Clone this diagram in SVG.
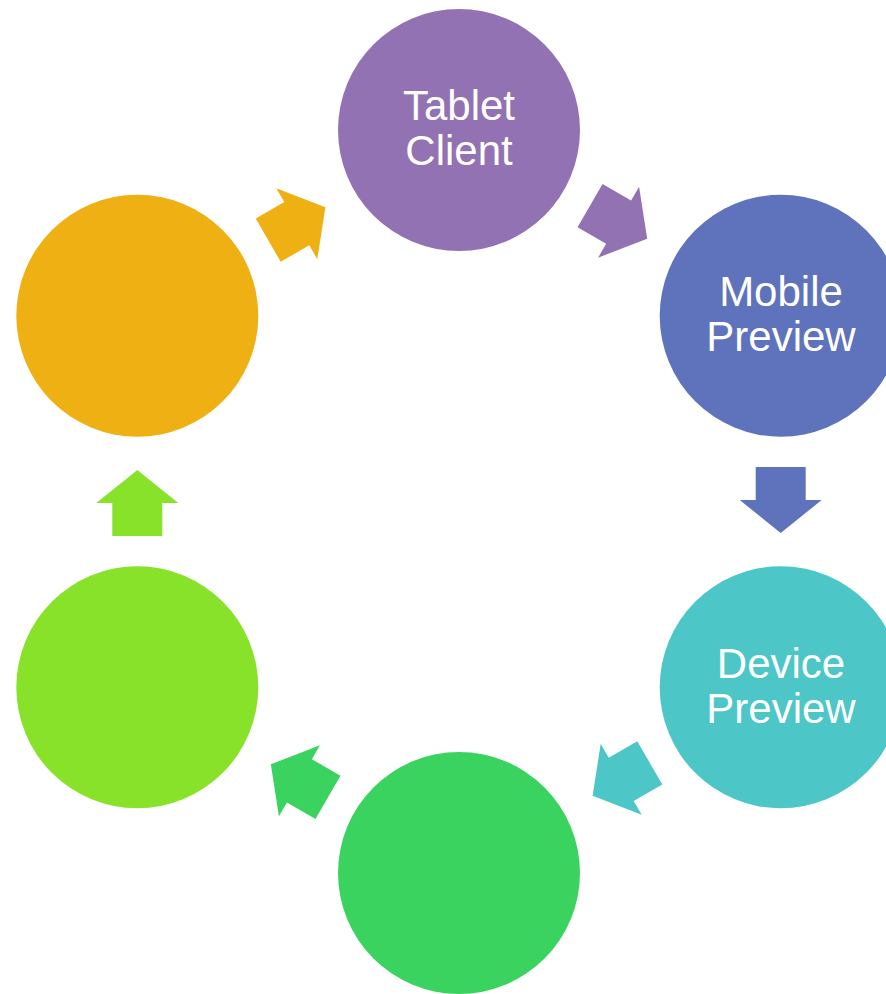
<svg xmlns="http://www.w3.org/2000/svg" width="886" height="994" viewBox="0 0 886 994">
<style>
.lbl{font-family:"Liberation Sans",Arial,sans-serif;font-size:42px;fill:#ffffff;text-anchor:middle}
</style>
<defs>
<polygon id="arr" points="-34.5,-25 -1.5,-25 -1.5,-41 31.5,0 -1.5,41 -1.5,25 -34.5,25"/>
</defs>
<rect width="886" height="994" fill="#ffffff"/>
<g id="node-tablet">
<circle cx="459" cy="130" r="121" fill="#9372B3"/>
<text class="lbl" x="459" y="120">Tablet</text>
<text class="lbl" x="459" y="165">Client</text>
</g>
<g id="node-mobile">
<circle cx="780.7" cy="315.75" r="121" fill="#5F73BD"/>
<text class="lbl" x="781" y="306">Mobile</text>
<text class="lbl" x="781" y="351">Preview</text>
</g>
<g id="node-device">
<circle cx="780.7" cy="687.25" r="121" fill="#4DC6C7"/>
<text class="lbl" x="781" y="678">Device</text>
<text class="lbl" x="781" y="723">Preview</text>
</g>
<g id="node-bottom">
<circle cx="459" cy="873" r="121" fill="#3AD35F"/>
</g>
<g id="node-leftbottom">
<circle cx="137.3" cy="687.25" r="121" fill="#88E22A"/>
</g>
<g id="node-lefttop">
<circle cx="137.3" cy="315.75" r="121" fill="#EFB013"/>
</g>
<g id="connectors">
<use href="#arr" transform="translate(619.9,222.9) rotate(30)" fill="#9372B3"/>
<use href="#arr" transform="translate(780.7,501.5) rotate(90)" fill="#5F73BD"/>
<use href="#arr" transform="translate(619.9,780.1) rotate(150)" fill="#4DC6C7"/>
<use href="#arr" transform="translate(298.1,780.1) rotate(210)" fill="#3AD35F"/>
<use href="#arr" transform="translate(137.3,501.5) rotate(270)" fill="#88E22A"/>
<use href="#arr" transform="translate(298.1,222.9) rotate(330)" fill="#EFB013"/>
</g>
</svg>
